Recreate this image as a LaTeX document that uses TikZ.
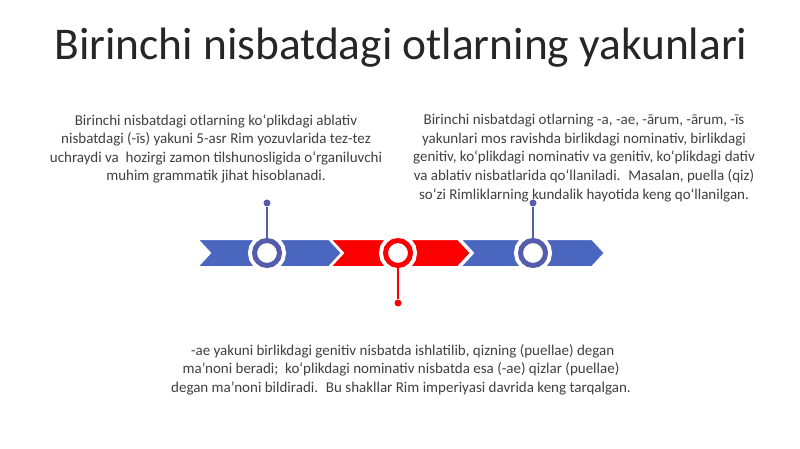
\documentclass[tikz,border=0pt]{standalone}
\usepackage{fontspec}
\setmainfont{Carlito}
\usepackage{xcolor}
\usetikzlibrary{calc}
\definecolor{barblue}{RGB}{74,102,190}
\definecolor{ringblue}{RGB}{86,92,172}
\definecolor{barred}{RGB}{250,0,0}
\definecolor{txtgray}{RGB}{64,64,64}
\definecolor{ttlgray}{RGB}{38,38,38}
\tikzset{
    ring/.style={draw=#1, circle, fill=white, line width=5pt, inner sep=0pt, minimum size=25pt,
        preaction={draw=white, line width=13pt}},
    pinend/.style={circle, fill=#1, inner sep=0pt, minimum size=7pt},
    pinline/.style={draw=#1, line width=1.5pt},
    chev/.style={fill=#1, draw=white, line width=2pt, line join=miter},
    para/.style={align=center, text=txtgray, font=\fontsize{15}{18.6}\selectfont, inner sep=0pt},
    ttl/.style={text=ttlgray, font=\fontsize{45.4}{54}\selectfont, inner sep=0pt}}

\begin{document}
\begin{tikzpicture}[x=1pt,y=-1pt]
\useasboundingbox (0,0) rectangle (800,449);
\fill[white] (0,0) rectangle (800,449);

\node[ttl, anchor=base] (title) at (401,60) {Birinchi nisbatdagi otlarning yakunlari};

% chevrons
\coordinate (B1) at (197,239);
\coordinate (R1) at (330,239);
\coordinate (B2) at (460,239);
\fill[chev=barblue] (B1) -- ++(132,0) -- ++(13,14) -- ++(-13,14) -- ++(-132,0) -- ++(13,-14) -- cycle;
\fill[chev=barred] (R1) -- ++(128,0) -- ++(13,14) -- ++(-13,14) -- ++(-128,0) -- ++(13,-14) -- cycle;
\fill[chev=barblue] (B2) -- ++(132,0) -- ++(13,14) -- ++(-13,14) -- ++(-132,0) -- ++(13,-14) -- cycle;

% rings and pins
\node[ring=ringblue] (c1) at (267,253) {};
\node[ring=barred] (c2) at (398,253) {};
\node[ring=ringblue] (c3) at (533,253) {};
\node[pinend=ringblue] (d1) at (267,203) {};
\node[pinend=barred] (d2) at (398,303) {};
\node[pinend=ringblue] (d3) at (533,203) {};
\draw[pinline=ringblue] (c1) -- (d1);
\draw[pinline=barred] (c2) -- (d2);
\draw[pinline=ringblue] (c3) -- (d3);

% texts
\node[para, anchor=north] (tl) at (216,114) {Birinchi nisbatdagi otlarning ko‘plikdagi ablativ\\
nisbatdagi (-īs) yakuni 5-asr Rim yozuvlarida tez-tez\\
uchraydi va~ hozirgi zamon tilshunosligida o‘rganiluvchi\\
muhim grammatik jihat hisoblanadi.};
\node[para, anchor=north] (tr) at (584,114) {Birinchi nisbatdagi otlarning -a, -ae, -ārum, -ārum, -īs\\
yakunlari mos ravishda birlikdagi nominativ, birlikdagi\\
genitiv, ko‘plikdagi nominativ va genitiv, ko‘plikdagi dativ\\
va ablativ nisbatlarida qo‘llaniladi.~ Masalan, puella (qiz)\\
so‘zi Rimliklarning kundalik hayotida keng qo‘llanilgan.};
\node[para, anchor=north] (bt) at (401,344) {~-ae yakuni birlikdagi genitiv nisbatda ishlatilib, qizning (puellae) degan\\
ma’noni beradi;~ ko‘plikdagi nominativ nisbatda esa (-ae) qizlar (puellae)\\
degan ma’noni bildiradi.~ Bu shakllar Rim imperiyasi davrida keng tarqalgan.};
\end{tikzpicture}
\end{document}
